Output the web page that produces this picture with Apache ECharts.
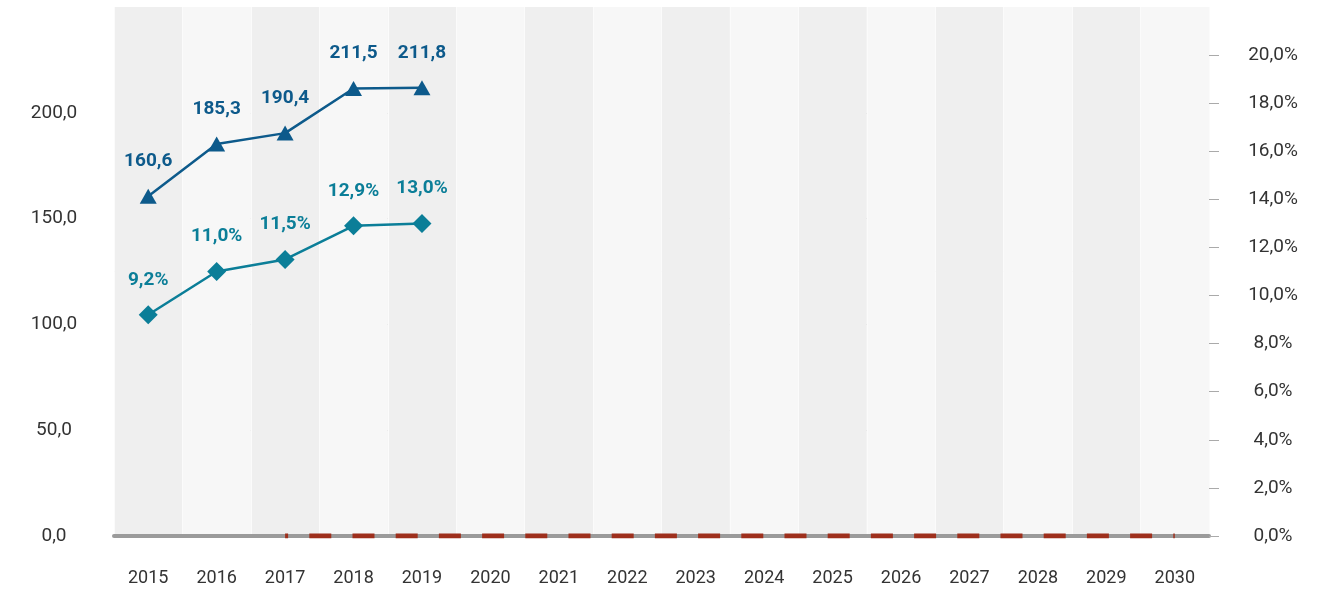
<!DOCTYPE html>
<html>
<head>
<meta charset="utf-8">
<script src="https://cdn.jsdelivr.net/npm/echarts@6/dist/echarts.min.js"></script>
<style>
  html, body { margin: 0; padding: 0; background: #ffffff; }
  #chart { width: 1329px; height: 589px; }
</style>
</head>
<body>
<div id="chart"></div>
<script>
// Years on the horizontal axis
const years = ['2015','2016','2017','2018','2019','2020','2021','2022','2023','2024','2025','2026','2027','2028','2029','2030'];

// Absolute values (left axis)
const absValues = [160.6, 185.3, 190.4, 211.5, 211.8];

// Share in percent (right axis)
const shareValues = [9.2, 11.0, 11.5, 12.9, 13.0];

// Target line at zero, from 2017 onward
const targetValues = [null, null, 0, 0, 0, 0, 0, 0, 0, 0, 0, 0, 0, 0, 0, 0];

// Tick values of the right axis
const rightTicks = [0, 2, 4, 6, 8, 10, 12, 14, 16, 18, 20];

const FONT = 'Roboto, "Liberation Sans", sans-serif';
const BLUE = '#0d5a8b';
const TEAL = '#0b7e98';

const fmt1 = v => v.toFixed(1).replace('.', ',');

const chart = echarts.init(document.getElementById('chart'));
chart.setOption({
  animation: false,
  textStyle: { fontFamily: FONT },
  grid: { left: 114, right: 120, top: 7, bottom: 53, containLabel: false },
  xAxis: {
    type: 'category',
    data: years,
    boundaryGap: true,
    axisLine: { show: true, onZero: true, lineStyle: { color: '#9b9b9b', width: 4 } },
    axisTick: { show: false },
    axisLabel: { color: '#333333', fontSize: 18, fontFamily: FONT, margin: 33 },
    splitArea: { show: true, areaStyle: { color: ['#efefef', '#f7f7f7'] } },
    splitLine: { show: true, lineStyle: { color: '#fbfbfb', width: 1 } }
  },
  yAxis: [
    {
      type: 'value',
      min: 0,
      max: 250,
      interval: 50,
      position: 'left',
      axisLine: { show: false },
      axisTick: { show: false },
      axisLabel: {
        color: '#333333', fontSize: 19, fontFamily: FONT,
        align: 'center', margin: 60, showMaxLabel: false,
        formatter: v => fmt1(v)
      },
      splitLine: { show: true, showMaxLine: false, lineStyle: { color: '#bdbdbd', width: 1 } }
    },
    {
      type: 'value',
      min: 0,
      max: 22,
      interval: 2,
      position: 'right',
      axisLine: { show: false },
      axisTick: { show: true, length: 10, customValues: rightTicks, lineStyle: { color: '#aaaaaa', width: 1 } },
      axisLabel: {
        color: '#333333', fontSize: 19, fontFamily: FONT,
        align: 'center', margin: 64, showMaxLabel: false,
        formatter: v => fmt1(v) + '%'
      },
      splitLine: { show: false }
    }
  ],
  series: [
    {
      name: 'target',
      type: 'line',
      yAxisIndex: 0,
      data: targetValues,
      symbol: 'none',
      silent: true,
      z: 3,
      lineStyle: { color: '#9e2f1c', width: 5, type: [22, 21.2], dashOffset: 19, cap: 'butt' }
    },
    {
      name: 'absolute',
      type: 'line',
      yAxisIndex: 0,
      data: absValues,
      symbol: 'triangle',
      symbolSize: [17, 15],
      z: 5,
      lineStyle: { color: BLUE, width: 2.5 },
      itemStyle: { color: BLUE },
      label: {
        show: true, position: 'top', distance: 18,
        color: BLUE, fontSize: 19, fontWeight: 'bold', fontFamily: FONT,
        formatter: p => fmt1(p.value)
      }
    },
    {
      name: 'share',
      type: 'line',
      yAxisIndex: 1,
      data: shareValues,
      symbol: 'diamond',
      symbolSize: [19, 19],
      z: 5,
      lineStyle: { color: TEAL, width: 2.5 },
      itemStyle: { color: TEAL },
      label: {
        show: true, position: 'top', distance: 16,
        color: TEAL, fontSize: 19, fontWeight: 'bold', fontFamily: FONT,
        formatter: p => fmt1(p.value) + '%'
      }
    }
  ]
});
</script>
</body>
</html>
